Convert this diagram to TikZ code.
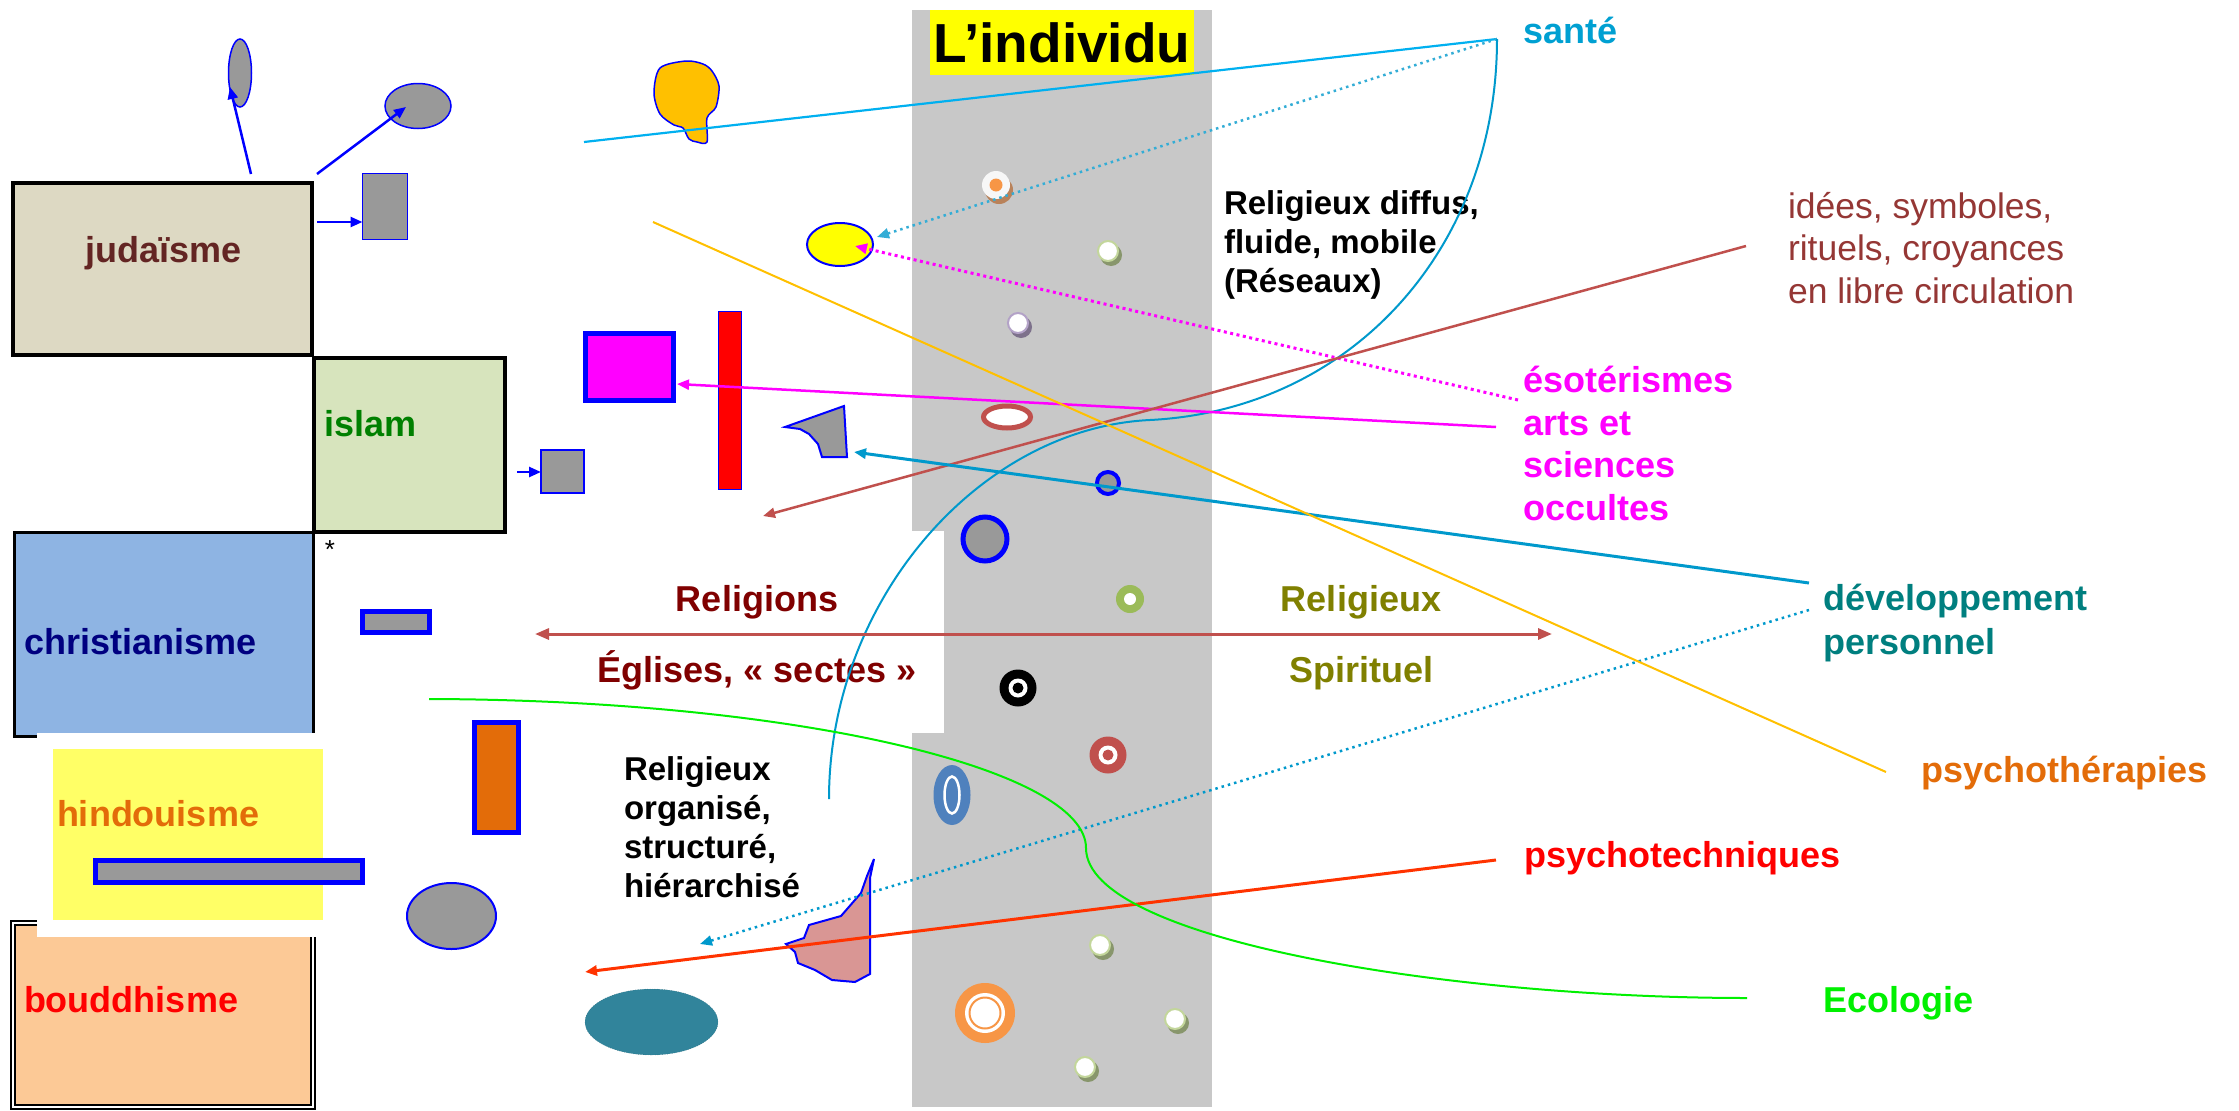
\documentclass[tikz,border=0pt]{standalone}
\usepackage{fontspec}
\setmainfont{Liberation Sans}
\usepackage{tikz}
\usetikzlibrary{shapes.geometric, arrows.meta, positioning, calc}

\definecolor{judfill}{HTML}{DDD9C3}
\definecolor{islfill}{HTML}{D7E4BD}
\definecolor{chrfill}{HTML}{8EB4E3}
\definecolor{hinfill}{HTML}{FFFF66}
\definecolor{boufill}{HTML}{FCC996}
\definecolor{judtext}{HTML}{632523}
\definecolor{isltext}{HTML}{008000}
\definecolor{chrtext}{HTML}{000080}
\definecolor{hintext}{HTML}{E36C09}
\definecolor{piecegray}{HTML}{999999}
\definecolor{bandgray}{HTML}{C8C8C8}
\definecolor{santetext}{HTML}{00A0D2}
\definecolor{santeline}{HTML}{00B0F0}
\definecolor{curveblue}{HTML}{0099CC}
\definecolor{devtext}{HTML}{007F7F}
\definecolor{idbrown}{HTML}{C0504D}
\definecolor{idtext}{HTML}{953735}
\definecolor{relred}{HTML}{800000}
\definecolor{relolive}{HTML}{808000}
\definecolor{psyline}{HTML}{FFC000}
\definecolor{techline}{HTML}{FF3300}
\definecolor{ecogreen}{HTML}{00F000}
\definecolor{tealfill}{HTML}{31849B}
\definecolor{tealdraw}{HTML}{215968}
\definecolor{pinkfill}{HTML}{D99694}
\definecolor{beadorange}{HTML}{F79646}
\definecolor{beadgreen}{HTML}{C3D69B}
\definecolor{beadlilac}{HTML}{B3A2C7}
\definecolor{olivering}{HTML}{9BBB59}
\definecolor{ovalblue}{HTML}{4F81BD}
\definecolor{shadowbrown}{HTML}{B9825A}
\definecolor{esomag}{HTML}{FF00FF}
\definecolor{pureyellow}{HTML}{FFFF00}
\definecolor{purered}{HTML}{FF0000}
\definecolor{pureblue}{HTML}{0000FF}

\begin{document}
\begin{tikzpicture}[
                x=1pt, y=-1pt,
                every node/.style={inner sep=0pt, outer sep=0pt},
                faith/.style={rectangle, draw=black, line width=4pt},
                piece/.style={draw=pureblue, fill=piecegray, line width=2pt},
                lbl/.style={anchor=base west, align=left, font=\fontsize{36}{42.5}\selectfont\bfseries},
                lblmid/.style={anchor=base, font=\fontsize{36}{42.5}\selectfont\bfseries},
                note/.style={anchor=base west, align=left, font=\fontsize{33}{39}\selectfont\bfseries},
                line/.style={-{Triangle[length=12pt,width=10pt]}},
                dotline/.style={dash pattern=on 2.5pt off 4pt}
            ]
            \fill[white] (0,0) rectangle (2239,1111);
            \useasboundingbox (0,0) rectangle (2239,1111);

            % the individual
            \node[fill=bandgray, minimum width=300, minimum height=1097] (band) at (1061.5,558.5) {};
            \node[fill=white, minimum width=33, minimum height=202] (notch) at (927.5,632) {};
            \node[fill=pureyellow, minimum width=264, minimum height=65, font=\fontsize{55}{60}\selectfont\bfseries] (indiv) at (1062,42.5) {L’individu};

            \fill[shadowbrown] (999,190) circle (14pt);
            \node[circle, fill=white!94!gray, minimum size=28] (bead0) at (996,185) {};
            \fill[beadorange] (bead0) circle (6.5pt);
            \foreach \bx/\by/\bc [count=\i] in {1108/251/beadgreen, 1018/323/beadlilac, 1100/945/beadgreen, 1175/1019/beadgreen, 1085/1067/beadgreen} {
                \fill[\bc!70!black] (\bx+3,\by+4) circle (11pt);
                \node[circle, fill=white, draw=\bc, line width=2pt, minimum size=20] (bead\i) at (\bx,\by) {};
            }
            \node[ellipse, draw=idbrown, fill=white, line width=5pt, minimum width=47, minimum height=22] (ring1) at (1007,417) {};
            \node[circle, draw=pureblue, fill=piecegray, line width=4pt, minimum size=22] (ring2) at (1108,483) {};
            \node[circle, draw=pureblue, fill=piecegray, line width=5pt, minimum size=44] (ring3) at (985,539) {};
            \node[circle, fill=olivering, minimum size=28] (ring4) at (1130,599) {};
            \fill[white] (ring4) circle (6pt);
            \foreach \tx/\ty/\tc [count=\i] in {1018/688/black, 1108/755/idbrown} {
                \node[circle, fill=\tc, minimum size=37] (target\i) at (\tx,\ty) {};
                \fill[white] (target\i) circle (9.5pt);
                \fill[\tc] (target\i) circle (5.5pt);
            }
            \node[ellipse, fill=ovalblue, minimum width=37, minimum height=60] (oval) at (952,795) {};
            \draw[white, line width=2.5pt] (oval) ellipse (7.5pt and 18.5pt);
            \node[circle, fill=beadorange, minimum size=60] (ring5) at (985,1013) {};
            \fill[white] (ring5) circle (20pt);
            \draw[beadorange, line width=2pt] (ring5) circle (15.5pt);

            % religions
            \node[faith, fill=judfill, minimum width=299, minimum height=172] (jud) at (162.5,269) {};
            \node[faith, fill=islfill, minimum width=191, minimum height=174] (isl) at (409.5,445) {};
            \node[faith, fill=chrfill, line width=3pt, minimum width=299, minimum height=204] (chr) at (163.5,634) {};
            \node[faith, fill=boufill, line width=2pt, double=white, double distance=2pt, minimum width=300, minimum height=184] (bou) at (163,1015) {};
            \node[fill=white, minimum width=290, minimum height=204] (hinback) at (182,835) {};
            \node[fill=hinfill, minimum width=270, minimum height=171] (hin) at (188,834.5) {};

            \node[lbl, text=judtext] (judlbl) at (85,262) {judaïsme};
            \node[lbl, text=isltext] (isllbl) at (324,436) {islam};
            \node[lbl, text=chrtext] (chrlbl) at (24,654) {christianisme};
            \node[lbl, text=hintext] (hinlbl) at (57,826) {hindouisme};
            \node[lbl, text=purered] (boulbl) at (24,1012) {bouddhisme};
            \node[font=\fontsize{26}{28}\selectfont] (star) at (330,550) {*};

            % pieces
            \node[piece, ellipse, line width=1.5pt, minimum width=23, minimum height=68] (el1) at (240,73) {};
            \node[piece, ellipse, line width=1.5pt, minimum width=66, minimum height=45] (el2) at (418,106) {};
            \node[piece, line width=1.5pt, minimum width=45, minimum height=66] (r1) at (385,206.5) {};
            \node[piece, line width=2.5pt, minimum width=43, minimum height=43] (r2) at (562.5,471.5) {};
            \node[piece, fill=esomag, line width=5pt, minimum width=88, minimum height=67] (mag) at (629.5,367) {};
            \node[piece, fill=purered, line width=1.5pt, minimum width=23, minimum height=178] (redbar) at (730,400.5) {};
            \node[piece, ellipse, fill=pureyellow, line width=2pt, minimum width=66, minimum height=43] (yel) at (840,244.5) {};
            \node[piece, line width=5pt, minimum width=67, minimum height=21] (r3) at (396,622) {};
            \node[piece, fill=hintext, line width=5pt, minimum width=44, minimum height=110] (orbar) at (496.5,777.5) {};
            \node[piece, line width=5pt, minimum width=267, minimum height=22] (longbar) at (229,871.5) {};
            \node[piece, ellipse, minimum width=89, minimum height=66] (el3) at (451.5,916) {};
            \node[ellipse, draw=tealdraw, dotted, fill=tealfill, minimum width=133, minimum height=66] (tealel) at (651.5,1022) {};

            \draw[piece, fill=psyline, line width=1.5pt] plot[smooth cycle, tension=0.5] coordinates {
                (686,61) (703,64) (712,71) (719,86) (716,107) (707,118) (707,142) (697,142)
                (689,139) (683,128) (674,125) (660,114) (654,93) (660,68)};
            \draw[piece] (785,427) -- (844,406) -- (847,457) -- (822,457) -- (818,444)
                -- (809,434) -- (800,429) -- cycle;
            \draw[piece, fill=pinkfill] (874,859) -- (867,876) -- (861,893) -- (841,916) -- (809,925)
                -- (804,938) -- (786,944) -- (795,952) -- (798,963) -- (815,970) -- (832,980)
                -- (855,982) -- (870,974) -- (870,878) -- cycle;

            % texts (multi-line nodes sit on their last line)
            \node[lblmid, text=relred] (rellbl) at (757,611) {Religions};
            \node[lblmid, text=relred] (eglbl) at (757,682) {Églises, « sectes »};
            \node[lblmid, text=relolive] (rgxlbl) at (1361,611) {Religieux};
            \node[lblmid, text=relolive] (spirlbl) at (1361,682) {Spirituel};
            \node[note] (orglbl) at (624,897) {Religieux\\organisé,\\structuré,\\hiérarchisé};
            \node[note] (difflbl) at (1224,292) {Religieux diffus,\\fluide, mobile\\(Réseaux)};
            \node[lbl, text=santetext] (santelbl) at (1523,43) {santé};
            \node[lbl, font=\fontsize{35.5}{42.5}\selectfont, text=idtext] (ideelbl) at (1788,303) {idées, symboles,\\rituels, croyances\\en libre circulation};
            \node[lbl, text=esomag] (esolbl) at (1523,520) {ésotérismes\\arts et\\sciences\\occultes};
            \node[lbl, font=\fontsize{36}{44}\selectfont\bfseries, text=devtext] (devlbl) at (1823,654) {développement\\personnel};
            \node[lbl, text=hintext] (psylbl) at (1921,782) {psychothérapies};
            \node[lbl, text=purered] (techlbl) at (1524,867) {psychotechniques};
            \node[lbl, text=ecogreen] (ecolbl) at (1823,1012) {Ecologie};

            % connectors
            \coordinate (santep) at (1497,39);
            \coordinate (j1) at (251,174);
            \coordinate (j2) at (317,174);
            \coordinate (j3) at (317,222);
            \coordinate (i1) at (517,472);
            \coordinate (el1t) at (230,87);
            \coordinate (el2t) at (406,107);
            \coordinate (s1) at (584,142);
            \coordinate (yelt1) at (877,237);
            \coordinate (yelt2) at (855,246);
            \coordinate (eso1) at (1518,400);
            \coordinate (eso2) at (1496,427);
            \coordinate (magt) at (677,384);
            \coordinate (id1) at (1746,246);
            \coordinate (idt) at (763,516);
            \coordinate (dev1) at (1809,583);
            \coordinate (devt) at (854,452);
            \coordinate (dev2) at (1809,610);
            \coordinate (devt2) at (700,944);
            \coordinate (psy1) at (1886,772);
            \coordinate (psyt) at (653,222);
            \coordinate (tech1) at (1496,860);
            \coordinate (techt) at (585,972);
            \coordinate (eco0) at (429,699);
            \coordinate (eco1) at (1747,998);
            \coordinate (curveend) at (829,799);
            \coordinate (rl) at (535,634);
            \coordinate (rr) at (1552,634);

            \draw[line, pureblue, line width=2.5pt] (j1) -- (el1t);
            \draw[line, pureblue, line width=2.5pt] (j2) -- (el2t);
            \draw[line, pureblue, line width=2.5pt] (j3) -- (j3 -| r1.west);
            \draw[line, pureblue, line width=2.5pt] (i1) -- (i1 -| r2.west);

            \draw[santeline, line width=2.2pt] (santep) -- (s1);
            \draw[line, dotline, curveblue!80!white, line width=2.5pt] (santep) -- (yelt1);
            \draw[curveblue, line width=2pt] (santep) .. controls (1497,250) and (1350,410) .. (1150,420)
                .. controls (980,428) and (829,600) .. (curveend);
            \draw[line, esomag, line width=3pt, dash pattern=on 3pt off 3.5pt] (eso1) -- (yelt2);
            \draw[line, esomag, line width=2.5pt] (eso2) -- (magt);
            \draw[line, idbrown, line width=2.5pt] (id1) -- (idt);
            \draw[line, curveblue, line width=3pt] (dev1) -- (devt);
            \draw[line, dotline, curveblue, line width=2.5pt] (dev2) -- (devt2);
            \draw[psyline, line width=2pt] (psy1) -- (psyt);
            \draw[line, techline, line width=3pt] (tech1) -- (techt);
            \draw[ecogreen, line width=2pt] (eco0) .. controls (800,700) and (1086,770) .. (1086,848)
                .. controls (1086,940) and (1450,998) .. (eco1);
            \draw[{Triangle[length=14pt,width=11pt]}-{Triangle[length=14pt,width=11pt]}, idbrown, line width=3pt] (rl) -- (rr);
        \end{tikzpicture}
\end{document}
